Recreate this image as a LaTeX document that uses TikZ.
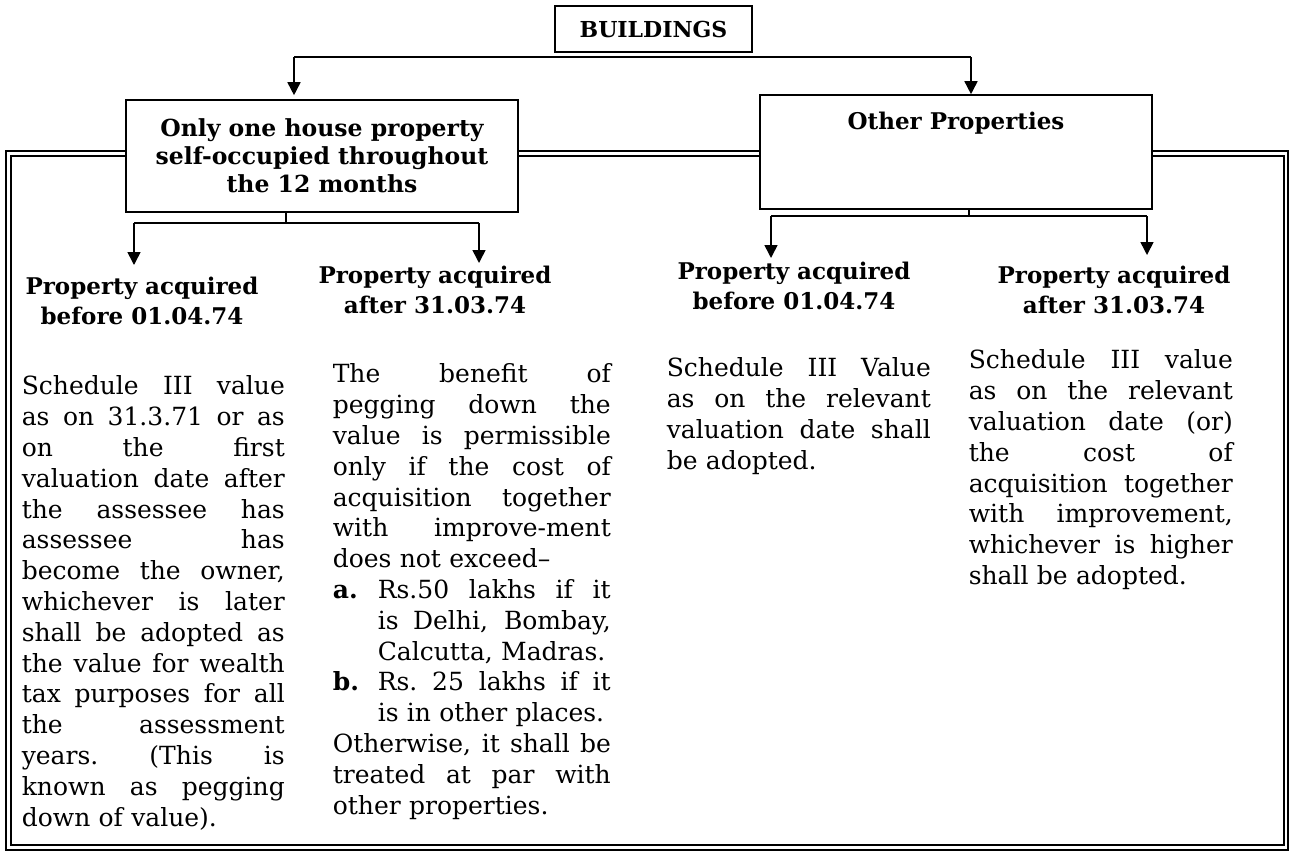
\documentclass[tikz,border=0pt]{standalone}
\usepackage{fontspec}
\setmainfont{DejaVu Serif}
\usetikzlibrary{arrows.meta}
\setlength{\parindent}{0pt}
\newlength{\colw}
\newcommand{\bodyfont}{\fontsize{25}{30.8}\selectfont}
\newcommand{\headfont}{\bfseries\fontsize{23}{30}\selectfont}
\newcommand{\boxfont}{\bfseries\fontsize{23.5}{28}\selectfont}
% a line spread to a given width
\newcommand{\spread}[2]{\hbox to #1{\spaceskip=\fontdimen2\font plus 1fil\relax
  \xspaceskip=\spaceskip #2}}
\newcommand{\jl}[1]{\leavevmode\spread{\colw}{#1}\\}
\newcommand{\il}[1]{\leavevmode\hspace*{45pt}\spread{\dimexpr\colw-45pt\relax}{#1}\\}
\newcommand{\al}[2]{\leavevmode\hbox to 45pt{\textbf{#1}\hfil}\spread{\dimexpr\colw-45pt\relax}{#2}\\}

\begin{document}
\begin{tikzpicture}[x=1pt,y=-1pt,line width=1.6pt,>={Triangle[length=13pt,width=13pt]},
  box node/.style={draw,fill=white,align=center,inner sep=0pt,font=\boxfont},
  head node/.style={align=center,anchor=north,inner sep=0pt,font=\headfont},
  text node/.style={anchor=north west,inner sep=0pt,text width=#1,font=\bodyfont},
  frame line/.style={line width=1.6pt}]

  \useasboundingbox (0,0) rectangle (1289,854);

  % double frame round everything
  \draw[frame line] (6,151) rectangle (1288,850);
  \draw[frame line,line width=1.3pt] (11,156) rectangle (1284,845);

  \node[box node,minimum width=197pt,minimum height=46pt,font=\bfseries\fontsize{22}{26}\selectfont] (bld) at (653.5,29) {BUILDINGS};
  \node[box node,minimum width=392pt,minimum height=112pt] (house) at (322,156) {Only one house property\\self-occupied throughout\\the 12 months};
  \node[box node,minimum width=392pt,minimum height=114pt] (other) at (956,152) {};
  \node[font=\headfont] (otherlbl) at (956,123) {Other Properties};

  \node[head node] (hA) at (142,276) {Property acquired\\before 01.04.74};
  \node[head node] (hB) at (435,265) {Property acquired\\after 31.03.74};
  \node[head node] (hC) at (794,261) {Property acquired\\before 01.04.74};
  \node[head node] (hD) at (1114,265) {Property acquired\\after 31.03.74};

  % top split
  \coordinate (bl) at (294,57);
  \coordinate (br) at (971,57);
  \draw (bl) -- (br);
  \draw[->,shorten >=4pt] (bl) -- (bl |- house.north);
  \draw[->] (br) -- (br |- other.north);

  % under the first box
  \coordinate (hs) at (286,223);
  \coordinate (ha) at (134,223);
  \coordinate (hb) at (479,223);
  \draw (hs |- house.south) -- (hs);
  \draw (ha) -- (hb);
  \draw[->,shorten >=11pt] (ha) -- (ha |- hA.north);
  \draw[->,shorten >=2pt] (hb) -- (hb |- hB.north);

  % under the second box
  \coordinate (os) at (969,216);
  \coordinate (oa) at (771,216);
  \coordinate (ob) at (1147,216);
  \draw (os |- other.south) -- (os);
  \draw (oa) -- (ob);
  \draw[->,shorten >=3pt] (oa) -- (oa |- hC.north);
  \draw[->,shorten >=10pt] (ob) -- (ob |- hD.north);

  \node[text node=263pt] (tA) at (21,375) {\setlength{\colw}{263pt}%
    \jl{Schedule III value}
    \jl{as on 31.3.71 or as}
    \jl{on the first}
    \jl{valuation date after}
    \jl{the assessee has}
    \jl{assessee has}
    \jl{become the owner,}
    \jl{whichever is later}
    \jl{shall be adopted as}
    \jl{the value for wealth}
    \jl{tax purposes for all}
    \jl{the assessment}
    \jl{years. (This is}
    \jl{known as pegging}
    down of value).};

  \node[text node=278pt] (tB) at (332,363) {\setlength{\colw}{278pt}%
    \jl{The benefit of}
    \jl{pegging down the}
    \jl{value is permissible}
    \jl{only if the cost of}
    \jl{acquisition together}
    \jl{with improve-ment}
    does not exceed–\\
    \al{a.}{Rs.50 lakhs if it}
    \il{is Delhi, Bombay,}
    \hspace*{45pt}Calcutta, Madras.\\
    \al{b.}{Rs. 25 lakhs if it}
    \hspace*{45pt}is in other places.\\
    \jl{Otherwise, it shall be}
    \jl{treated at par with}
    other properties.};

  \node[text node=264pt] (tC) at (666,357) {\setlength{\colw}{264pt}%
    \jl{Schedule III Value}
    \jl{as on the relevant}
    \jl{valuation date shall}
    be adopted.};

  \node[text node=264pt] (tD) at (968,349) {\setlength{\colw}{264pt}%
    \jl{Schedule III value}
    \jl{as on the relevant}
    \jl{valuation date (or)}
    \jl{the cost of}
    \jl{acquisition together}
    \jl{with improvement,}
    \jl{whichever is higher}
    shall be adopted.};

\end{tikzpicture}
\end{document}
